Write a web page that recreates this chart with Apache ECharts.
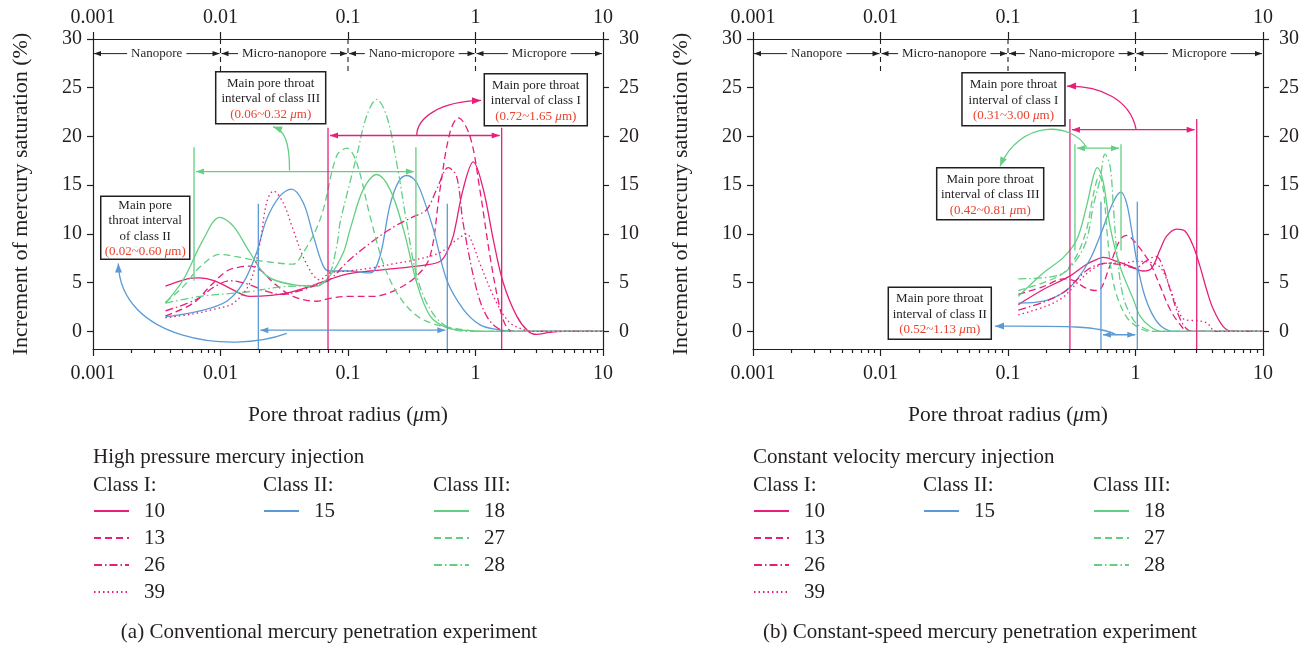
<!DOCTYPE html>
<html>
<head>
<meta charset="utf-8">
<script src="https://cdn.jsdelivr.net/npm/echarts@6/dist/echarts.min.js"></script>
<style>
  html, body { margin: 0; padding: 0; background: #fff; }
  #chart { width: 1315px; height: 646px; }
</style>
</head>
<body>
<div id="chart"></div>
<script>
// ---- axis ticks and labels ----
const xTickValues = [0.001, 0.01, 0.1, 1, 10];
const xMinorTicks = [];
[0.001, 0.01, 0.1, 1].forEach(d => { for (let k = 2; k <= 9; k++) xMinorTicks.push(+(k * d).toPrecision(3)); });
const yTickValues = [0, 5, 10, 15, 20, 25, 30];
const regionBounds = [0.001, 0.01, 0.1, 1, 10];
const regionNames = ['Nanopore', 'Micro-nanopore', 'Nano-micropore', 'Micropore'];
const classNames = ['Class I:', 'Class II:', 'Class III:'];
const classMembers = [['10', '13', '26', '39'], ['15'], ['18', '27', '28']];
const panelTitles = ['High pressure mercury injection', 'Constant velocity mercury injection'];
const captions = ['(a) Conventional mercury penetration experiment', '(b) Constant-speed mercury penetration experiment'];

// ---- high pressure mercury injection: [pore throat radius (um), increment (%)] ----
const hp10 = [[0.0037,4.65],[0.0055,5.4],[0.0068,5.5],[0.009,5.2],[0.012,4.4],[0.017,3.6],[0.025,3.7],[0.035,4.0],[0.05,4.6],[0.07,5.3],[0.1,5.9],[0.15,6.2],[0.25,6.5],[0.4,6.8],[0.53,7.2],[0.6,8.2],[0.67,9.8],[0.8,14.6],[0.96,17.4],[1.15,14.6],[1.38,9.4],[1.65,5.0],[2.1,1.6],[2.6,0],[3.0,-0.3],[3.8,-0.1],[4.8,0],[10,0]];
const hp13 = [[0.0037,1.6],[0.0061,2.9],[0.0085,4.8],[0.0112,6.2],[0.014,6.6],[0.017,6.7],[0.021,6.2],[0.026,5.0],[0.037,3.6],[0.057,3.1],[0.072,3.4],[0.104,3.6],[0.158,3.6],[0.24,4.3],[0.346,5.7],[0.44,7.7],[0.527,14.6],[0.63,20.4],[0.733,21.9],[0.906,20.0],[1.08,14.6],[1.3,7.7],[1.56,2.3],[1.76,0.4],[2.0,0],[10,0]];
const hp26 = [[0.0037,2.1],[0.0065,3.3],[0.009,4.6],[0.012,5.2],[0.016,4.9],[0.022,4.2],[0.03,3.8],[0.045,4.3],[0.06,4.9],[0.072,5.3],[0.1,7.2],[0.158,9.3],[0.24,10.9],[0.33,11.8],[0.414,12.5],[0.497,14.6],[0.612,16.8],[0.711,15.9],[0.8,11.1],[1.02,4.3],[1.22,1.6],[1.47,0.4],[1.8,0],[10,0]];
const hp39 = [[0.0037,1.4],[0.0061,1.8],[0.009,2.3],[0.0126,2.9],[0.017,5.0],[0.0204,9.1],[0.023,13.2],[0.026,14.4],[0.031,13.2],[0.037,10.5],[0.047,7.0],[0.06,5.3],[0.072,6.0],[0.1,6.2],[0.15,6.5],[0.241,7.0],[0.35,7.4],[0.527,8.1],[0.711,9.4],[0.853,10.0],[0.95,9.0],[1.08,7.0],[1.47,2.9],[1.86,0.9],[2.37,0.2],[2.8,0],[10,0]];
const hp15 = [[0.0037,1.5],[0.0069,2.1],[0.0112,3.1],[0.0151,5.0],[0.0192,8.1],[0.023,11.5],[0.0293,13.9],[0.036,14.6],[0.0446,13.2],[0.0535,9.8],[0.064,6.7],[0.072,6.2],[0.1,6.2],[0.149,6.0],[0.178,7.7],[0.213,12.9],[0.25,15.4],[0.289,16.0],[0.33,15.6],[0.367,14.6],[0.467,10.5],[0.594,5.3],[0.8,2.3],[1.08,0.7],[1.47,0.2],[2.0,0],[10,0]];
const hp18 = [[0.0037,2.9],[0.0051,5.3],[0.0073,9.4],[0.0099,11.7],[0.0126,10.8],[0.017,8.1],[0.023,5.7],[0.037,4.8],[0.057,4.65],[0.072,5.7],[0.092,8.1],[0.104,10.5],[0.132,14.6],[0.168,16.1],[0.213,14.6],[0.272,10.5],[0.346,5.0],[0.44,1.6],[0.594,0.4],[0.85,0.1],[1.2,0],[10,0]];
const hp27 = [[0.0037,3.0],[0.0051,4.6],[0.0069,6.6],[0.0099,7.9],[0.013,7.7],[0.017,7.4],[0.025,7.1],[0.037,6.9],[0.0446,8.1],[0.055,10.2],[0.064,12.5],[0.0815,18.0],[0.098,18.8],[0.117,17.3],[0.149,11.8],[0.189,7.0],[0.241,4.0],[0.325,1.9],[0.44,0.9],[0.7,0.3],[1.2,0],[10,0]];
const hp28 = [[0.0037,2.9],[0.0069,3.6],[0.012,3.9],[0.017,4.1],[0.031,4.6],[0.05,4.7],[0.068,5.3],[0.0815,8.7],[0.0865,11.1],[0.1,14.5],[0.117,18.0],[0.14,22.1],[0.168,23.8],[0.201,22.1],[0.241,17.3],[0.289,11.1],[0.346,5.7],[0.44,2.3],[0.594,0.5],[0.9,0],[10,0]];

// ---- constant velocity mercury injection ----
const cv10 = [[0.1205,2.75],[0.189,4.3],[0.307,5.7],[0.414,6.9],[0.5,7.4],[0.559,7.6],[0.711,7.2],[0.906,6.7],[1.15,6.2],[1.34,6.5],[1.56,8.4],[1.76,9.8],[2.1,10.5],[2.44,10.3],[2.84,8.75],[3.2,6.7],[3.61,4.3],[4.07,2.3],[4.88,0.5],[5.8,0],[10,0]];
const cv13 = [[0.1205,3.8],[0.189,4.6],[0.272,5.4],[0.33,5.2],[0.4,4.5],[0.48,4.2],[0.527,4.3],[0.62,6.5],[0.755,9.4],[0.85,9.85],[1.0,9.1],[1.3,7.0],[1.56,4.65],[1.86,2.3],[2.24,0.7],[2.6,0],[10,0]];
const cv26 = [[0.1205,2.2],[0.189,3.0],[0.272,4.0],[0.346,5.3],[0.44,6.5],[0.6,7.0],[0.8,6.8],[1.0,6.5],[1.2,7.2],[1.45,7.7],[1.65,6.5],[1.9,4.0],[2.2,1.5],[2.5,0.3],[2.8,0],[10,0]];
const cv39 = [[0.1205,1.7],[0.2,2.6],[0.27,3.5],[0.35,5.0],[0.45,6.3],[0.6,7.0],[0.8,7.0],[1.0,7.2],[1.3,7.1],[1.56,6.6],[1.8,5.0],[2.1,2.6],[2.44,1.2],[3.0,1.1],[3.6,0.9],[4.3,0],[10,0]];
const cv15 = [[0.1205,2.9],[0.189,3.1],[0.272,4.0],[0.346,5.3],[0.44,7.4],[0.527,9.8],[0.631,12.5],[0.711,13.9],[0.77,14.3],[0.85,13.2],[0.93,10.5],[1.03,7.0],[1.16,4.0],[1.35,1.8],[1.6,0.5],[2.0,0],[10,0]];
const cv18 = [[0.1205,3.6],[0.189,6.0],[0.272,7.6],[0.346,9.4],[0.414,12.9],[0.467,15.9],[0.501,16.8],[0.559,15.3],[0.631,10.8],[0.755,6.7],[0.961,3.3],[1.084,1.6],[1.3,0.5],[1.6,0],[10,0]];
const cv27 = [[0.1205,4.2],[0.189,5.0],[0.272,6.0],[0.346,7.8],[0.414,10.5],[0.467,14.0],[0.52,16.0],[0.56,14.5],[0.6,10.0],[0.65,6.0],[0.72,3.5],[0.85,1.5],[1.0,0.6],[1.3,0],[10,0]];
const cv28 = [[0.1205,5.4],[0.189,5.5],[0.272,6.0],[0.346,7.4],[0.414,9.4],[0.467,12.9],[0.527,15.6],[0.577,18.2],[0.631,17.0],[0.67,12.9],[0.711,8.4],[0.8,3.6],[0.96,1.2],[1.1,0.5],[1.4,0],[10,0]];

const panels = [
  { '10': hp10, '13': hp13, '26': hp26, '39': hp39, '15': hp15, '18': hp18, '27': hp27, '28': hp28 },
  { '10': cv10, '13': cv13, '26': cv26, '39': cv39, '15': cv15, '18': cv18, '27': cv27, '28': cv28 }
];

// ---- styling ----
const FONT = "'Liberation Serif', 'DejaVu Serif', serif";
const INK = '#231f20';
const PINK = '#e6207a';
const BLUE = '#5b9bd5';
const GREEN = '#62cf82';
const RED = '#e8432f';
const DASH = [7, 4];
const DASHDOT = [8, 3, 1.5, 3];
const DOT = [1.5, 3];
const seriesLook = {
  '10': { color: PINK, type: 'solid' },
  '13': { color: PINK, type: DASH },
  '26': { color: PINK, type: DASHDOT },
  '39': { color: PINK, type: DOT },
  '15': { color: BLUE, type: 'solid' },
  '18': { color: GREEN, type: 'solid' },
  '27': { color: GREEN, type: DASH },
  '28': { color: GREEN, type: DASHDOT }
};

const gridLeft = [93, 753];
const gridWidth = 510;

// ---- interval annotations (data coordinates) ----
const annotations = [
  {
    intervals: [
      { color: GREEN, x: [0.0062, 0.341], yTop: 18.9, yBottom: 5.2, yArrow: 16.4, curve: [[0.0348,16.5],[0.0348,19.7],[0.0315,20.6],[0.0258,21.0]] },
      { color: PINK, x: [0.0697, 1.604], yTop: 20.9, yBottom: -1.8, yArrow: 20.1, curve: [[0.346,20.1],[0.347,21.95],[0.527,23.6],[1.104,23.7]] },
      { color: BLUE, x: [0.0198, 0.601], yTop: 13.1, yBottom: -1.8, yArrow: 0.13, curve: [[0.0331,-0.2],[0.01187,-2.36],[0.00163,-0.82],[0.00158,6.97]] }
    ],
    boxes: [
      { at: [0.00917, 26.64], w: 110, h: 52, lines: ['Main pore throat', 'interval of class III'], range: '0.06~0.32' },
      { at: [1.172, 26.43], w: 103, h: 52, lines: ['Main pore throat', 'interval of class I'], range: '0.72~1.65' },
      { at: [0.00115, 13.88], w: 89, h: 63, lines: ['Main pore', 'throat interval', 'of class II'], range: '0.02~0.60' }
    ]
  },
  {
    intervals: [
      { color: PINK, x: [0.306, 3.02], yTop: 21.8, yBottom: -1.8, yArrow: 20.7, curve: [[1.009,20.77],[0.906,23.79],[0.527,25.23],[0.29,25.16]] },
      { color: GREEN, x: [0.335, 0.77], yTop: 19.2, yBottom: 8.3, yArrow: 18.8, curve: [[0.4144,18.84],[0.3177,21.54],[0.1242,21.74],[0.0866,16.95]] },
      { color: BLUE, x: [0.536, 1.033], yTop: 13.3, yBottom: -1.8, yArrow: -0.34, curve: [[0.703,-0.34],[0.527,0.615],[0.2557,0.564],[0.0791,0.544]] }
    ],
    boxes: [
      { at: [0.04356, 26.53], w: 103, h: 53, lines: ['Main pore throat', 'interval of class I'], range: '0.31~3.00' },
      { at: [0.02759, 16.79], w: 107, h: 52, lines: ['Main pore throat', 'interval of class III'], range: '0.42~0.81' },
      { at: [0.01151, 4.54], w: 103, h: 52, lines: ['Main pore throat', 'interval of class II'], range: '0.52~1.13' }
    ]
  }
];

function decadeLabel(v) {
  const e = Math.round(Math.log10(v));
  return e < 0 ? Math.pow(10, e).toFixed(-e) : String(Math.round(Math.pow(10, e)));
}

const axisLineStyle = { color: INK, width: 1.2 };
const labelStyle = { fontFamily: FONT, fontSize: 20, color: INK };

const grids = [], xAxes = [], yAxes = [], series = [], legends = [];
[0, 1].forEach(g => {
  grids.push({ left: gridLeft[g], width: gridWidth, top: 39, height: 310 });
  // bottom axis (with name), top axis, and a bottom axis carrying only the minor ticks
  xAxes.push({
    type: 'log', logBase: 10, gridIndex: g, position: 'bottom', min: 0.001, max: 10,
    name: 'Pore throat radius ({i|\u03bc}m)', nameLocation: 'middle', nameGap: 55,
    nameTextStyle: { fontFamily: FONT, fontSize: 21.5, color: INK, rich: { i: { fontFamily: FONT, fontSize: 21.5, fontStyle: 'italic', color: INK } } },
    axisLine: { onZero: false, lineStyle: axisLineStyle },
    axisTick: { length: 7, lineStyle: axisLineStyle, customValues: xTickValues },
    minorTick: { show: false },
    axisLabel: Object.assign({ margin: 15, formatter: decadeLabel, customValues: xTickValues }, labelStyle),
    splitLine: { show: false }
  });
  xAxes.push({
    type: 'log', logBase: 10, gridIndex: g, position: 'top', min: 0.001, max: 10,
    axisLine: { onZero: false, lineStyle: axisLineStyle },
    axisTick: { length: 7, lineStyle: axisLineStyle, customValues: xTickValues },
    minorTick: { show: false },
    axisLabel: Object.assign({ margin: 11, formatter: decadeLabel, customValues: xTickValues }, labelStyle),
    splitLine: { show: false }
  });
  xAxes.push({
    type: 'log', logBase: 10, gridIndex: g, position: 'bottom', min: 0.001, max: 10,
    axisLine: { show: false, onZero: false },
    axisTick: { length: 4, lineStyle: axisLineStyle, customValues: xMinorTicks },
    minorTick: { show: false },
    axisLabel: { show: false },
    splitLine: { show: false }
  });
  ['left', 'right'].forEach(pos => {
    yAxes.push({
      type: 'value', gridIndex: g, position: pos, min: -1.8, max: 30,
      name: pos === 'left' ? 'Increment of mercury saturation (%)' : '',
      nameLocation: 'middle', nameGap: 61, nameRotate: 90,
      nameTextStyle: { fontFamily: FONT, fontSize: 22, color: INK },
      axisLine: { onZero: false, lineStyle: axisLineStyle },
      axisTick: { length: 6, lineStyle: axisLineStyle, customValues: yTickValues },
      axisLabel: Object.assign({ margin: pos === 'left' ? 11 : 16, customValues: yTickValues }, labelStyle),
      splitLine: { show: false }
    });
  });
  Object.keys(seriesLook).forEach(name => {
    const look = seriesLook[name];
    series.push({
      type: 'line', name: name, data: panels[g][name],
      xAxisIndex: g * 3, yAxisIndex: g * 2,
      smooth: 0.35, symbol: 'none', showSymbol: false, silent: true,
      lineStyle: { color: look.color, width: 1.3, type: look.type },
      itemStyle: { color: look.color },
      emphasis: { disabled: true }
    });
  });
  classMembers.forEach((members, c) => {
    legends.push({
      data: members, orient: 'vertical', left: gridLeft[g] + c * 170, top: 500.5, padding: 0,
      itemWidth: 35, itemHeight: 12, itemGap: 6, selectedMode: false,
      itemStyle: { opacity: 0 },
      textStyle: { fontFamily: FONT, fontSize: 21, color: INK, lineHeight: 21, padding: [0, 0, 0, 10] }
    });
  });
});

const chart = echarts.init(document.getElementById('chart'), null, { renderer: 'canvas' });
chart.setOption({
  animation: false,
  backgroundColor: '#fff',
  grid: grids, xAxis: xAxes, yAxis: yAxes, series: series, legend: legends
});

// ---- overlay drawing: region band, intervals, call-out boxes, legend headings ----
function px(g, x, y) { return chart.convertToPixel({ xAxisIndex: g * 3, yAxisIndex: g * 2 }, [x, y]); }

function head(tip, from, color, len, half) {
  const dx = tip[0] - from[0], dy = tip[1] - from[1];
  const d = Math.hypot(dx, dy) || 1;
  const ux = dx / d, uy = dy / d;
  const bx = tip[0] - ux * len, by = tip[1] - uy * len;
  return {
    type: 'polygon', z: 20,
    shape: { points: [tip, [bx - uy * half, by + ux * half], [bx + uy * half, by - ux * half]] },
    style: { fill: color }
  };
}
function seg(a, b, color, width, dash) {
  return { type: 'line', z: 19, shape: { x1: a[0], y1: a[1], x2: b[0], y2: b[1] },
    style: { stroke: color, lineWidth: width, lineDash: dash || null } };
}

const graphics = [];
[0, 1].forEach(g => {
  const yRow = px(g, 1, 28.5)[1];
  regionBounds.forEach((b, i) => {
    const x = px(g, b, 0)[0];
    if (i > 0 && i < regionBounds.length - 1) {
      graphics.push(seg([x, px(g, b, 30)[1]], [x, px(g, b, 26.6)[1]], INK, 1.1, [5, 4]));
    }
  });
  regionNames.forEach((name, i) => {
    const x1 = px(g, regionBounds[i], 0)[0] + 1, x2 = px(g, regionBounds[i + 1], 0)[0] - 1;
    graphics.push(seg([x1, yRow], [x2, yRow], INK, 1));
    graphics.push(head([x1, yRow], [x1 + 10, yRow], INK, 7, 2.6));
    graphics.push(head([x2, yRow], [x2 - 10, yRow], INK, 7, 2.6));
    const cx = px(g, Math.sqrt(regionBounds[i] * regionBounds[i + 1]), 0)[0];
    graphics.push({ type: 'text', z: 21, style: { text: name, x: cx, y: yRow, align: 'center', verticalAlign: 'middle',
      font: '13px ' + FONT, fill: INK, backgroundColor: '#fff', padding: [0, 4] } });
  });

  annotations[g].intervals.forEach(iv => {
    iv.x.forEach(xv => graphics.push(seg(px(g, xv, iv.yTop), px(g, xv, iv.yBottom), iv.color, 1.3)));
    const a = px(g, iv.x[0], iv.yArrow), b = px(g, iv.x[1], iv.yArrow);
    a[0] += 2; b[0] -= 2;
    graphics.push(seg(a, b, iv.color, 1.3));
    graphics.push(head(a, b, iv.color, 8, 3));
    graphics.push(head(b, a, iv.color, 8, 3));
    const c = iv.curve.map(p => px(g, p[0], p[1]));
    graphics.push({ type: 'bezierCurve', z: 19,
      shape: { x1: c[0][0], y1: c[0][1], cpx1: c[1][0], cpy1: c[1][1], cpx2: c[2][0], cpy2: c[2][1], x2: c[3][0], y2: c[3][1] },
      style: { stroke: iv.color, lineWidth: 1.3, fill: null } });
    graphics.push(head(c[3], c[2], iv.color, 9, 3.5));
  });

  annotations[g].boxes.forEach(bx => {
    const p = px(g, bx.at[0], bx.at[1]);
    graphics.push({ type: 'rect', z: 22, shape: { x: p[0], y: p[1], width: bx.w, height: bx.h },
      style: { fill: '#fff', stroke: INK, lineWidth: 1.5 } });
    const txt = bx.lines.map(l => '{b|' + l + '}').join('\n') + '\n{r|(' + bx.range + ' }{ri|\u03bc}{r|m)}';
    graphics.push({ type: 'text', z: 23, style: {
      text: txt, x: p[0] + bx.w / 2, y: p[1] + bx.h / 2 + 1, align: 'center', verticalAlign: 'middle',
      rich: {
        b: { fontFamily: FONT, fontSize: 13, lineHeight: 15.5, fill: INK, align: 'center' },
        r: { fontFamily: FONT, fontSize: 13, lineHeight: 15.5, fill: RED },
        ri: { fontFamily: FONT, fontSize: 13, lineHeight: 15.5, fill: RED, fontStyle: 'italic' }
      } } });
  });

  const left = gridLeft[g];
  graphics.push({ type: 'text', style: { text: panelTitles[g], x: left, y: 457, verticalAlign: 'middle', font: '21px ' + FONT, fill: INK } });
  classNames.forEach((cn, c) => {
    graphics.push({ type: 'text', style: { text: cn, x: left + c * 170, y: 485, verticalAlign: 'middle', font: '21px ' + FONT, fill: INK } });
  });
  graphics.push({ type: 'text', style: { text: captions[g], x: g === 0 ? 329 : 980, y: 632, align: 'center', verticalAlign: 'middle', font: '21px ' + FONT, fill: INK } });
});

chart.setOption({ graphic: { elements: graphics } });
</script>
</body>
</html>
